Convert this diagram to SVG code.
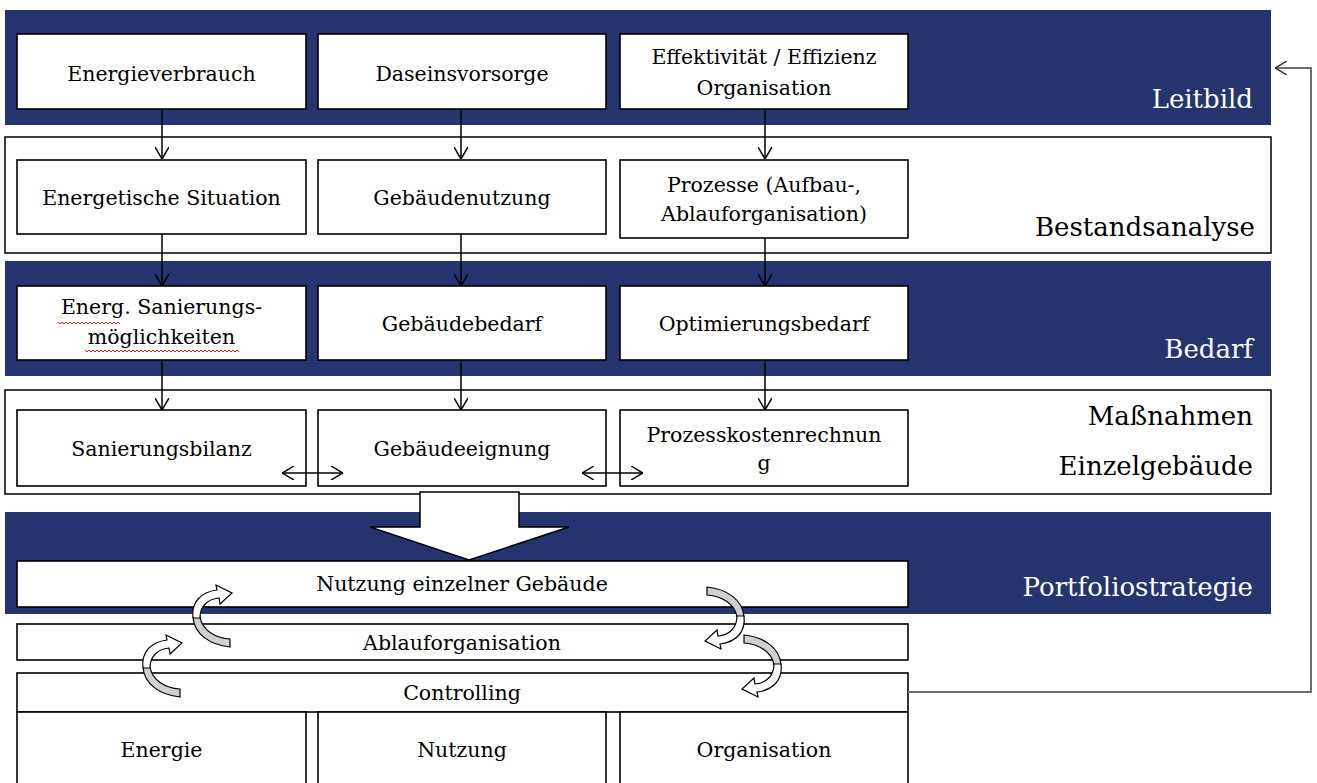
<svg xmlns="http://www.w3.org/2000/svg" width="1317" height="783" viewBox="0 0 1317 783">
<defs>
<style>
.band{fill:#25346f}
.wband{fill:#fff;stroke:#000;stroke-width:1.5}
.box{fill:#fff;stroke:#000;stroke-width:1.6}
.t{font-family:"DejaVu Serif","Liberation Serif",serif;font-size:20.5px;fill:#000;text-anchor:middle}
.lbl{font-family:"DejaVu Serif","Liberation Serif",serif;font-size:26px;text-anchor:end}
.w{fill:#fff}
.k{fill:#000}
.con{fill:none;stroke:#000;stroke-width:1.5}
.fb{fill:none;stroke:#6e6e6e;stroke-width:2}
.wavy{fill:none;stroke:#e02020;stroke-width:1}
.cw{fill:#fff;stroke:#000;stroke-width:1.2}
.cg{fill:#cfcfcf;stroke:#000;stroke-width:1.2}
</style>
<marker id="ah" viewBox="0 0 12 14" refX="12" refY="7" markerWidth="12" markerHeight="14" markerUnits="userSpaceOnUse" orient="auto-start-reverse">
<path d="M0,0 L12,7 L0,14" fill="none" stroke="#000" stroke-width="1.5"/>
</marker>
<marker id="ahg" viewBox="0 0 12 14" refX="12" refY="7" markerWidth="12" markerHeight="14" markerUnits="userSpaceOnUse" orient="auto">
<path d="M0,0 L12,7 L0,14" fill="none" stroke="#333" stroke-width="1.5"/>
</marker>
<g id="curl">
<path class="cg" d="M0,5 C1,22 17,33 37,35 L37,27 C22,26 9,18 7,5 Z"/>
<path class="cw" d="M0,6 C-2,-10 8,-20 24,-22 L23,-27 L39,-19 L27,-8 L26,-14 C14,-13 7,-5 7,6 Z"/>
</g>
</defs>

<g id="bands">
<rect class="band" x="5" y="10" width="1266" height="115"/>
<rect class="wband" x="5" y="137" width="1266" height="116"/>
<rect class="band" x="5" y="261" width="1266" height="115"/>
<rect class="wband" x="5" y="390" width="1266" height="104"/>
<rect class="band" x="5" y="512" width="1266" height="102"/>
</g>

<g id="band-labels">
<text class="lbl w" x="1253" y="108">Leitbild</text>
<text class="lbl k" x="1255" y="236">Bestandsanalyse</text>
<text class="lbl w" x="1253" y="358">Bedarf</text>
<text class="lbl k" x="1253" y="425">Maßnahmen</text>
<text class="lbl k" x="1253" y="475">Einzelgebäude</text>
<text class="lbl w" x="1253" y="596">Portfoliostrategie</text>
</g>

<g id="n-energieverbrauch"><rect class="box" x="17" y="34" width="289" height="75"/><text class="t" x="161.5" y="81">Energieverbrauch</text></g>
<g id="n-daseinsvorsorge"><rect class="box" x="318" y="34" width="288" height="75"/><text class="t" x="462" y="81">Daseinsvorsorge</text></g>
<g id="n-effektivitaet"><rect class="box" x="620" y="34" width="288" height="75"/><text class="t" x="764" y="64">Effektivität / Effizienz</text><text class="t" x="764" y="95">Organisation</text></g>

<g id="n-energetische-situation"><rect class="box" x="17" y="160" width="289" height="74"/><text class="t" x="161.5" y="205">Energetische Situation</text></g>
<g id="n-gebaeudenutzung"><rect class="box" x="318" y="160" width="288" height="74"/><text class="t" x="462" y="205">Gebäudenutzung</text></g>
<g id="n-prozesse"><rect class="box" x="620" y="160" width="288" height="78"/><text class="t" x="764" y="192">Prozesse (Aufbau-,</text><text class="t" x="764" y="221">Ablauforganisation)</text></g>

<g id="n-sanierungsmoeglichkeiten"><rect class="box" x="17" y="286" width="289" height="74"/><text class="t" x="161.5" y="314">Energ. Sanierungs-</text><text class="t" x="161.5" y="344">möglichkeiten</text>
<path class="wavy" d="M58,322 l2,2 l2,-2 l2,2 l2,-2 l2,2 l2,-2 l2,2 l2,-2 l2,2 l2,-2 l2,2 l2,-2 l2,2 l2,-2 l2,2 l2,-2 l2,2 l2,-2 l2,2 l2,-2 l2,2 l2,-2 l2,2 l2,-2 l2,2 l2,-2 l2,2 l2,-2 l2,2 l2,-2 l2,2"/>
<path class="wavy" d="M85,350 l2,2 l2,-2 l2,2 l2,-2 l2,2 l2,-2 l2,2 l2,-2 l2,2 l2,-2 l2,2 l2,-2 l2,2 l2,-2 l2,2 l2,-2 l2,2 l2,-2 l2,2 l2,-2 l2,2 l2,-2 l2,2 l2,-2 l2,2 l2,-2 l2,2 l2,-2 l2,2 l2,-2 l2,2 l2,-2 l2,2 l2,-2 l2,2 l2,-2 l2,2 l2,-2 l2,2 l2,-2 l2,2 l2,-2 l2,2 l2,-2 l2,2 l2,-2 l2,2 l2,-2 l2,2 l2,-2 l2,2 l2,-2 l2,2 l2,-2 l2,2 l2,-2 l2,2 l2,-2 l2,2 l2,-2 l2,2 l2,-2 l2,2 l2,-2 l2,2 l2,-2 l2,2 l2,-2 l2,2 l2,-2 l2,2 l2,-2 l2,2 l2,-2 l2,2 l2,-2 l2,2"/></g>
<g id="n-gebaeudebedarf"><rect class="box" x="318" y="286" width="288" height="74"/><text class="t" x="462" y="331">Gebäudebedarf</text></g>
<g id="n-optimierungsbedarf"><rect class="box" x="620" y="286" width="288" height="74"/><text class="t" x="764" y="331">Optimierungsbedarf</text></g>

<g id="n-sanierungsbilanz"><rect class="box" x="17" y="410" width="289" height="76"/><text class="t" x="161.5" y="456">Sanierungsbilanz</text></g>
<g id="n-gebaeudeeignung"><rect class="box" x="318" y="410" width="288" height="76"/><text class="t" x="462" y="456">Gebäudeeignung</text></g>
<g id="n-prozesskosten"><rect class="box" x="620" y="410" width="288" height="76"/><text class="t" x="764" y="442">Prozesskostenrechnun</text><text class="t" x="764" y="470">g</text></g>

<g id="n-nutzung-einzelner"><rect class="box" x="17" y="561" width="891" height="46"/><text class="t" x="462" y="591">Nutzung einzelner Gebäude</text></g>
<g id="n-ablauforganisation"><rect class="box" x="17" y="624" width="891" height="36"/><text class="t" x="462" y="650">Ablauforganisation</text></g>
<g id="n-controlling"><rect class="box" x="17" y="673" width="891" height="39"/><text class="t" x="462" y="700">Controlling</text></g>
<g id="n-energie"><rect class="box" x="17" y="712" width="289" height="80"/><text class="t" x="161.5" y="757">Energie</text></g>
<g id="n-nutzung"><rect class="box" x="318" y="712" width="288" height="80"/><text class="t" x="462" y="757">Nutzung</text></g>
<g id="n-organisation"><rect class="box" x="620" y="712" width="288" height="80"/><text class="t" x="764" y="757">Organisation</text></g>

<g id="connectors">
<line class="con" x1="162" y1="109" x2="162" y2="159" marker-end="url(#ah)"/>
<line class="con" x1="461" y1="109" x2="461" y2="159" marker-end="url(#ah)"/>
<line class="con" x1="765" y1="109" x2="765" y2="159" marker-end="url(#ah)"/>
<line class="con" x1="162" y1="234" x2="162" y2="286" marker-end="url(#ah)"/>
<line class="con" x1="461" y1="234" x2="461" y2="286" marker-end="url(#ah)"/>
<line class="con" x1="765" y1="238" x2="765" y2="286" marker-end="url(#ah)"/>
<line class="con" x1="162" y1="360" x2="162" y2="410" marker-end="url(#ah)"/>
<line class="con" x1="461" y1="360" x2="461" y2="410" marker-end="url(#ah)"/>
<line class="con" x1="765" y1="360" x2="765" y2="410" marker-end="url(#ah)"/>
<line class="con" x1="282" y1="473" x2="343" y2="473" marker-start="url(#ah)" marker-end="url(#ah)"/>
<line class="con" x1="582" y1="473" x2="643" y2="473" marker-start="url(#ah)" marker-end="url(#ah)"/>
<polyline class="fb" points="908,692 1311,692 1311,68 1275,68" marker-end="url(#ahg)"/>
</g>

<g id="big-arrow">
<polygon points="420,492 519,492 519,527 569,527 469,560 370,527 420,527" fill="#fff" stroke="#000" stroke-width="1.5"/>
</g>

<g id="curved-arrows">
<use href="#curl" transform="translate(193,612)"/>
<use href="#curl" transform="translate(143,662)"/>
<use href="#curl" transform="translate(744,622) rotate(180)"/>
<use href="#curl" transform="translate(781,670) rotate(180)"/>
</g>
</svg>
